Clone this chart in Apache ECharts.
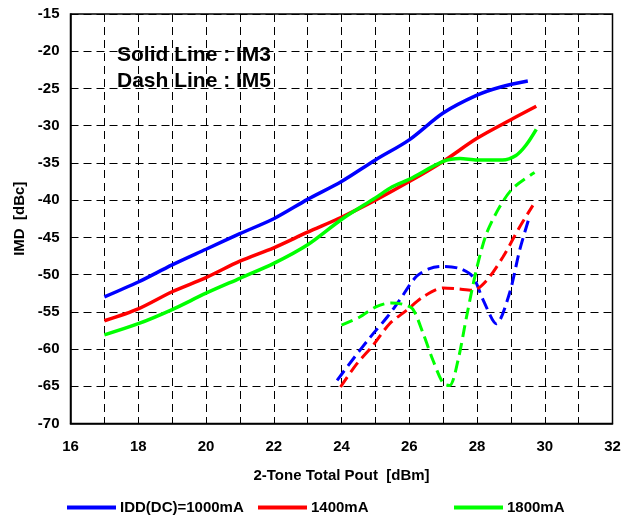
<!DOCTYPE html>
<html>
<head>
<meta charset="utf-8">
<script src="https://cdn.jsdelivr.net/npm/echarts@6/dist/echarts.min.js"></script>
<style>
  html, body { margin: 0; padding: 0; background: #fff; }
  #chart { width: 636px; height: 518px; }
</style>
</head>
<body>
<div id="chart"></div>
<script>
const FONT = "'Liberation Sans', Arial, sans-serif";

// IM3 (solid)
const im3X1000 = [17, 18, 19, 20, 21, 22, 23, 24, 25, 26, 27, 28, 28.7, 29.5];
const im3Y1000 = [-53.0, -51.0, -48.7, -46.6, -44.5, -42.5, -39.9, -37.5, -34.6, -31.9, -28.3, -25.9, -24.8, -24.0];
const im3X1400 = [17, 18, 19, 20, 21, 22, 23, 24, 25, 26, 27, 28, 29, 29.75];
const im3Y1400 = [-56.2, -54.6, -52.3, -50.4, -48.2, -46.4, -44.3, -42.3, -40.0, -37.5, -34.8, -31.7, -29.2, -27.4];
const im3X1800 = [17, 18, 19, 20, 21, 22, 23, 24, 25, 25.5, 26, 27, 27.5, 28, 28.75, 29.15, 29.45, 29.75];
const im3Y1800 = [-58.1, -56.6, -54.7, -52.5, -50.5, -48.5, -46.0, -42.6, -39.7, -38.2, -37.2, -34.8, -34.4, -34.6, -34.6, -34.0, -32.6, -30.5];

// IM5 (dashed)
const im5X1000 = [23.87, 24.35, 24.85, 25.35, 25.72, 26.2, 26.6, 27.0, 27.5, 27.88, 28.18, 28.57, 28.96, 29.26, 29.55];
const im5Y1000 = [-64.2, -61.3, -58.4, -55.7, -53.4, -50.3, -49.2, -48.9, -49.2, -50.3, -53.4, -56.6, -52.5, -46.7, -42.2];
const im5X1400 = [23.97, 24.45, 24.93, 25.42, 25.92, 26.41, 27.0, 27.4, 27.88, 28.28, 28.77, 29.26, 29.65];
const im5Y1400 = [-65.1, -62.0, -59.5, -56.6, -54.8, -53.0, -51.8, -51.9, -52.1, -50.8, -47.6, -43.6, -40.7];
const im5X1800 = [24.0, 24.54, 25.03, 25.47, 25.82, 26.1, 26.41, 26.7, 27.0, 27.19, 27.44, 27.69, 27.98, 28.28, 28.67, 29.06, 29.7];
const im5Y1800 = [-56.8, -55.7, -54.3, -53.8, -54.0, -54.6, -57.9, -61.5, -64.6, -64.9, -61.5, -55.7, -49.4, -44.5, -40.9, -38.4, -36.3];

const legendNames = ["IDD(DC)=1000mA", "1400mA", "1800mA"];
const colors = ["#0000ff", "#ff0000", "#00ff00"];

function pairs(xs, ys) {
  return xs.map((x, i) => [x, ys[i]]);
}

function line(name, xs, ys, color, dashed) {
  return {
    name: name,
    type: "line",
    data: pairs(xs, ys),
    smooth: 0.3,
    showSymbol: false,
    lineStyle: {
      color: color,
      width: dashed ? 3 : 3.5,
      type: dashed ? [12, 6] : "solid",
    },
    itemStyle: { color: color },
  };
}

const chart = echarts.init(document.getElementById("chart"), null, { renderer: "canvas" });

const gridDash = { color: "#000", width: 1, type: [8, 5] };

chart.setOption({
  animation: false,
  backgroundColor: "#fff",
  textStyle: { fontFamily: FONT },
  grid: {
    left: 70.5,
    right: 23.5,
    top: 14,
    bottom: 94.5,
    show: true,
    borderColor: "#000",
    borderWidth: 1.5,
    backgroundColor: "transparent",
  },
  legend: legendNames.map((n, i) => ({
    data: [n],
    left: [67, 258, 454][i],
    top: 500,
    padding: 0,
    icon: "rect",
    itemWidth: 49,
    itemHeight: 4,
    itemGap: 0,
    textStyle: { fontFamily: FONT, fontWeight: "bold", fontSize: 15, color: "#000", padding: [0, 0, 0, -1] },
  })),
  xAxis: {
    type: "value",
    min: 16,
    max: 32,
    interval: 1,
    name: "2-Tone Total Pout  [dBm]",
    nameLocation: "middle",
    nameGap: 45,
    nameTextStyle: { fontFamily: FONT, fontWeight: "bold", fontSize: 15, color: "#000" },
    axisLine: { show: true, lineStyle: { color: "#000", width: 1.5 } },
    axisTick: { show: false },
    axisLabel: {
      margin: 16,
      fontFamily: FONT,
      fontWeight: "bold",
      fontSize: 15,
      color: "#000",
      formatter: (v) => (v % 2 === 0 ? String(v) : ""),
    },
    splitLine: { show: true, lineStyle: gridDash },
  },
  yAxis: {
    type: "value",
    min: -70,
    max: -15,
    interval: 5,
    name: "IMD  [dBc]",
    nameLocation: "middle",
    nameRotate: 90,
    nameGap: 42,
    nameTextStyle: { fontFamily: FONT, fontWeight: "bold", fontSize: 15, color: "#000" },
    axisLine: { show: true, lineStyle: { color: "#000", width: 1.5 } },
    axisTick: { show: false },
    axisLabel: {
      margin: 11,
      fontFamily: FONT,
      fontWeight: "bold",
      fontSize: 15,
      color: "#000",
    },
    splitLine: { show: true, lineStyle: gridDash },
  },
  graphic: [
    {
      type: "group",
      z: 100,
      children: [
        { type: "rect", shape: { x: 97, y: 33, width: 196, height: 64 }, style: { fill: "#fff" } },
        {
          type: "text",
          x: 117,
          y: 55,
          style: { text: "Solid Line : IM3", font: "bold 21px " + FONT, fill: "#000", verticalAlign: "middle" },
        },
        {
          type: "text",
          x: 117,
          y: 81,
          style: { text: "Dash Line : IM5", font: "bold 21px " + FONT, fill: "#000", verticalAlign: "middle" },
        },
      ],
    },
  ],
  series: [
    line(legendNames[0], im3X1000, im3Y1000, colors[0], false),
    line(legendNames[1], im3X1400, im3Y1400, colors[1], false),
    line(legendNames[2], im3X1800, im3Y1800, colors[2], false),
    line("IM5 1000mA", im5X1000, im5Y1000, colors[0], true),
    line("IM5 1400mA", im5X1400, im5Y1400, colors[1], true),
    line("IM5 1800mA", im5X1800, im5Y1800, colors[2], true),
  ],
});
</script>
</body>
</html>
